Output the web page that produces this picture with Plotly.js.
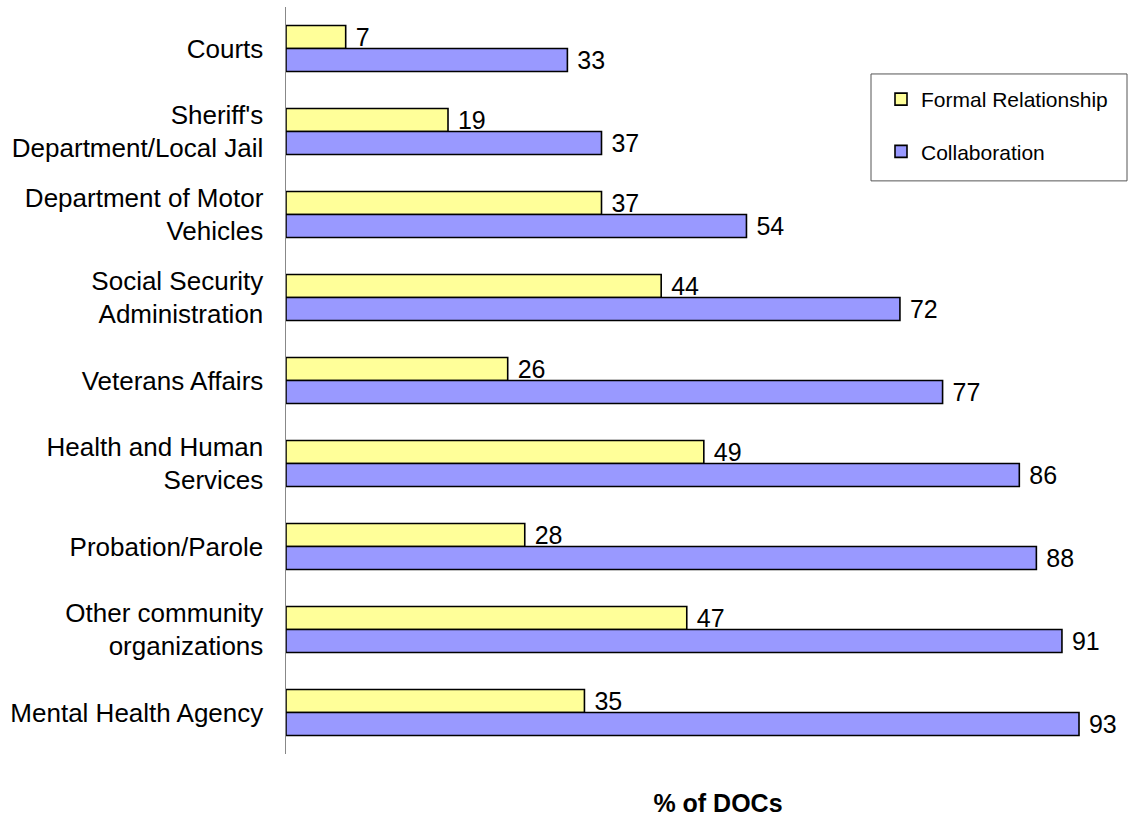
<!DOCTYPE html>
<html>
<head>
<meta charset="utf-8">
<script src="https://cdn.plot.ly/plotly-3.0.1.min.js"></script>
<style>html,body{margin:0;padding:0;background:#fff;}#chart{width:1130px;height:819px;}</style>
</head>
<body>
<div id="chart"></div>
<script>
const categories = [
  "Courts",
  "Sheriff's<br>Department/Local Jail",
  "Department of Motor<br>Vehicles",
  "Social Security<br>Administration",
  "Veterans Affairs",
  "Health and Human<br>Services",
  "Probation/Parole",
  "Other community<br>organizations",
  "Mental Health Agency"
];
const formalRelationship = [7, 19, 37, 44, 26, 49, 28, 47, 35];
const collaboration = [33, 37, 54, 72, 77, 86, 88, 91, 93];
const seriesNames = ["Formal Relationship", "Collaboration"];
const axisTitle = "% of DOCs";

const FONT = "Liberation Sans, Arial, sans-serif";

function barTrace(name, values, color, group) {
  return {
    type: "bar",
    orientation: "h",
    name: name,
    legendgroup: group,
    y: categories,
    x: values,
    text: values.map(v => " " + v),
    textposition: "outside",
    constraintext: "none",
    cliponaxis: false,
    textfont: {family: FONT, size: 25, color: "#000"},
    marker: {color: color, line: {color: "#000", width: 1.6}},
    hoverinfo: "x+name"
  };
}

const data = [
  barTrace(seriesNames[0], formalRelationship, "#FFFF99", "a"),
  barTrace(seriesNames[1], collaboration, "#9999FF", "b")
];

// plot area in pixels: x 286..1130, y 7..754.5
const PL = 286, PW = 844, PT = 7, PH = 747.5;
const px = v => (v - PL) / PW;
const py = v => (PT + PH - v) / PH;

const layout = {
  width: 1130,
  height: 819,
  margin: {l: PL, r: 1130 - PL - PW, t: PT, b: 819 - PT - PH, pad: 0},
  paper_bgcolor: "#fff",
  plot_bgcolor: "#fff",
  font: {family: FONT, color: "#000"},
  barmode: "group",
  bargap: 0.445,
  bargroupgap: 0,
  showlegend: true,
  title: {
    text: "<b>" + axisTitle + "</b>",
    font: {family: FONT, size: 25, color: "#000"},
    xref: "container", yref: "container",
    x: 718 / 1130, xanchor: "center",
    y: 1 - 803 / 819, yanchor: "middle"
  },
  xaxis: {
    range: [0, 98.98],
    showgrid: false, zeroline: false, showline: false,
    showticklabels: false, ticks: "", fixedrange: true
  },
  yaxis: {
    autorange: "reversed",
    type: "category",
    showgrid: false, zeroline: false,
    showline: true, linecolor: "#888", linewidth: 1.5,
    ticks: "", ticklabelstandoff: 16,
    tickfont: {family: FONT, size: 26, color: "#000"},
    fixedrange: true
  },
  shapes: [{
    type: "rect", xref: "paper", yref: "paper",
    x0: px(871), x1: px(1127), y0: py(181), y1: py(74),
    line: {color: "#555", width: 1}, fillcolor: "rgba(0,0,0,0)", layer: "above"
  }],
  legend: {
    x: px(881), xanchor: "left",
    y: py(79), yanchor: "top",
    bgcolor: "rgba(0,0,0,0)",
    borderwidth: 0,
    font: {family: FONT, size: 21, color: "#000"},
    traceorder: "grouped",
    tracegroupgap: 22
  }
};

Plotly.newPlot("chart", data, layout, {displayModeBar: false, staticPlot: true});
</script>
</body>
</html>
